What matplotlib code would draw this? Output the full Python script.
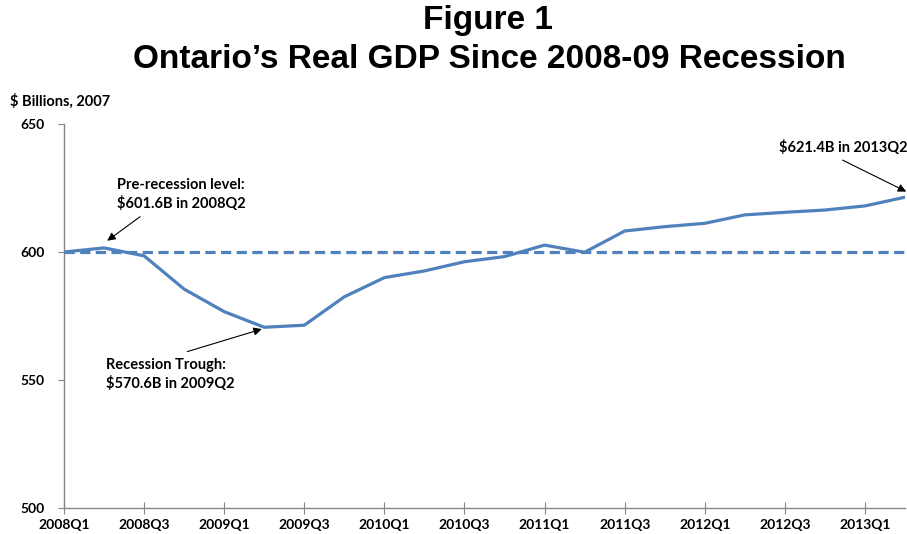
import matplotlib.pyplot as plt

quarters = ["2008Q1", "2008Q2", "2008Q3", "2008Q4",
            "2009Q1", "2009Q2", "2009Q3", "2009Q4",
            "2010Q1", "2010Q2", "2010Q3", "2010Q4",
            "2011Q1", "2011Q2", "2011Q3", "2011Q4",
            "2012Q1", "2012Q2", "2012Q3", "2012Q4",
            "2013Q1", "2013Q2"]
gdp = [600.0, 601.6, 598.5, 585.5,
       576.7, 570.6, 571.4, 582.5,
       590.0, 592.6, 596.2, 598.2,
       602.7, 599.9, 608.2, 609.9,
       611.2, 614.5, 615.5, 616.4,
       618.0, 621.4]
baseline = 600
yticks = [500, 550, 600, 650]

BLUE = "#4F81BD"
GREY = "#868686"
title_font = ["Liberation Sans", "DejaVu Sans"]
body_font = ["Lato", "DejaVu Sans"]

fig = plt.figure(figsize=(9.07, 5.34), dpi=100)
ax = fig.add_axes([64 / 907, 26 / 534, 841 / 907, 384 / 534])

x = list(range(len(quarters)))
ax.plot(x, gdp, color=BLUE, lw=2.3, solid_joinstyle="round", zorder=3)
ax.plot([0, len(quarters) - 1], [baseline, baseline], color=BLUE, lw=2.3,
        dashes=(3.2, 1.7), zorder=2)

ax.set_xlim(0, len(quarters) - 1)
ax.set_ylim(500, 650)
ax.set_yticks(yticks)
ax.set_xticks(x[::2])
ax.set_xticklabels(quarters[::2])

for s in ["top", "right"]:
    ax.spines[s].set_visible(False)
for s in ["left", "bottom"]:
    ax.spines[s].set_color(GREY)
    ax.spines[s].set_linewidth(1)
ax.tick_params(axis="y", direction="out", length=4, color=GREY, pad=10)
ax.tick_params(axis="x", direction="inout", length=8, color=GREY, pad=4)
for lab in ax.get_xticklabels() + ax.get_yticklabels():
    lab.set_family(body_font)
    lab.set_fontweight("bold")
    lab.set_fontsize(10)

fig.text(488 / 907, 1 - 21 / 534, "Figure 1", ha="center", va="center",
         family=title_font, fontweight="bold", fontsize=24)
fig.text(489 / 907, 1 - 60 / 534, "Ontario’s Real GDP Since 2008-09 Recession",
         ha="center", va="center", family=title_font, fontweight="bold", fontsize=24)
fig.text(10 / 907, 1 - 101 / 534, "$ Billions, 2007", ha="left", va="center",
         family=body_font, fontweight="bold", fontsize=10.5)

arrow = dict(arrowstyle="-|>", color="black", lw=0.8, mutation_scale=12,
             shrinkA=0, shrinkB=0)
txt = dict(family=body_font, fontweight="bold", fontsize=10.5, ha="left",
           linespacing=1.3, annotation_clip=False)

ax.annotate("", xy=(1.08, 604.4), xytext=(1.9, 613.8), arrowprops=arrow,
            annotation_clip=False)
ax.annotate("Pre-recession level:\n$601.6B in 2008Q2", xy=(1.33, 616),
            va="bottom", **txt)

ax.annotate("", xy=(4.94, 569.9), xytext=(3.08, 561.1), arrowprops=arrow,
            annotation_clip=False)
ax.annotate("Recession Trough:\n$570.6B in 2009Q2", xy=(1.05, 558.6),
            va="top", **txt)

ax.annotate("", xy=(21.03, 623.6), xytext=(19.44, 635.9), arrowprops=arrow,
            annotation_clip=False)
ax.annotate("$621.4B in 2013Q2", xy=(17.85, 638), va="bottom", **txt)

fig.savefig("out.png", dpi=100)
